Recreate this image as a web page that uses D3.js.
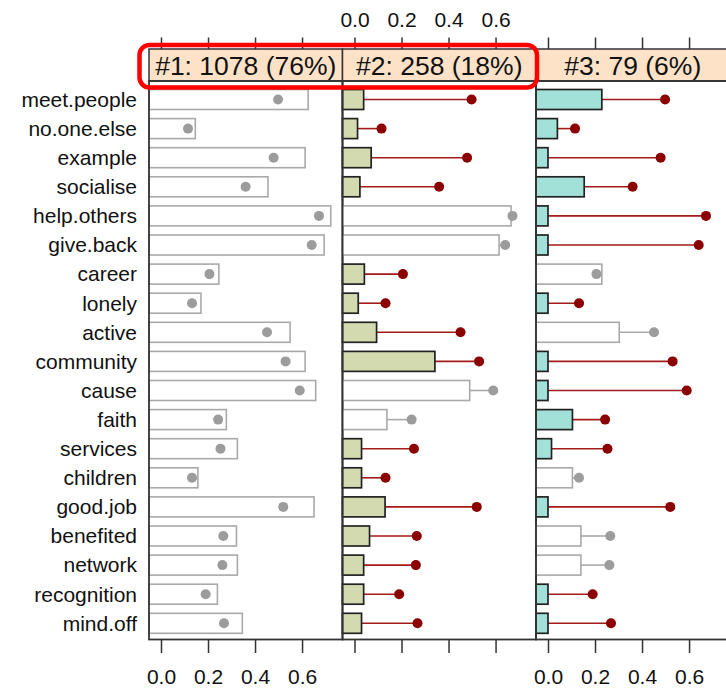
<!DOCTYPE html>
<html>
<head>
<meta charset="utf-8">
<script src="https://cdn.jsdelivr.net/npm/d3@7"></script>
<style>
  html, body { margin: 0; padding: 0; background: #fff; }
  svg { display: block; font-family: "Liberation Sans", Arial, sans-serif; }
</style>
</head>
<body>
<svg id="chart" width="726" height="688"></svg>
<script>
// Reasons given for volunteering: share of each segment agreeing, vs. the overall share
const categories = ["meet.people", "no.one.else", "example", "socialise", "help.others",
  "give.back", "career", "lonely", "active", "community", "cause", "faith", "services",
  "children", "good.job", "benefited", "network", "recognition", "mind.off"];

const overall = [0.498, 0.115, 0.479, 0.360, 0.672, 0.641, 0.206, 0.132, 0.451, 0.530,
  0.590, 0.243, 0.253, 0.132, 0.520, 0.265, 0.261, 0.190, 0.268];

const segmentLabels = ["#1: 1078 (76%)", "#2: 258 (18%)", "#3: 79 (6%)"];

const segment1 = [0.626, 0.146, 0.613, 0.455, 0.722, 0.694, 0.246, 0.170, 0.549, 0.613,
  0.658, 0.278, 0.325, 0.157, 0.651, 0.321, 0.325, 0.240, 0.346];
const segment2 = [0.039, 0.013, 0.071, 0.023, 0.666, 0.615, 0.042, 0.016, 0.094, 0.342,
  0.490, 0.138, 0.030, 0.030, 0.130, 0.064, 0.039, 0.039, 0.030];
const segment3 = [0.229, 0.040, 0.000, 0.154, 0.000, 0.000, 0.229, 0.000, 0.303, 0.000,
  0.000, 0.104, 0.015, 0.104, 0.000, 0.140, 0.140, 0.000, 0.000];

// 1 = segment differs markedly from the overall share (bar is shaded)
const marked1 = [0, 0, 0, 0, 0, 0, 0, 0, 0, 0, 0, 0, 0, 0, 0, 0, 0, 0, 0];
const marked2 = [1, 1, 1, 1, 0, 0, 1, 1, 1, 1, 0, 0, 1, 1, 1, 1, 1, 1, 1];
const marked3 = [1, 1, 1, 1, 1, 1, 0, 1, 0, 1, 1, 1, 1, 0, 1, 0, 0, 1, 1];

const segmentFills = ["#d8d8d8", "#d4dab0", "#a2e1d7"];
const xTicks = [0.0, 0.2, 0.4, 0.6];

const segments = [
  { label: segmentLabels[0], values: segment1, marked: marked1, fill: segmentFills[0] },
  { label: segmentLabels[1], values: segment2, marked: marked2, fill: segmentFills[1] },
  { label: segmentLabels[2], values: segment3, marked: marked3, fill: segmentFills[2] }
];

// Layout
const panelLeft = 149, panelW = 193.5;
const stripTop = 49, stripH = 32;
const panelTop = stripTop + stripH, panelBottom = 639.5;
const frameColor = "#333";
const greyStroke = "#a9a9a9", greyDot = "#9c9c9c";
const redLine = "#a31a1a", redDot = "#8b0000";

const svg = d3.select("#chart");

const x = d3.scaleLinear().domain([-0.051, 0.772]).range([0, panelW]);
const y = d3.scalePoint().domain(categories).range([99.5, 623.3]);
const barH = 20;

// Category labels
svg.append("g").selectAll("text")
  .data(categories)
  .join("text")
  .attr("x", 137)
  .attr("y", d => y(d))
  .attr("dy", "0.35em")
  .attr("text-anchor", "end")
  .attr("font-size", 21)
  .attr("fill", "#111")
  .text(d => d);

segments.forEach((seg, i) => {
  const g = svg.append("g").attr("transform", `translate(${panelLeft + i * panelW},0)`);
  const rows = categories.map((c, k) => ({ cat: c, v: seg.values[k], o: overall[k], m: seg.marked[k] === 1 }));

  // connecting lines from bar end to overall share
  g.append("g").selectAll("line")
    .data(rows)
    .join("line")
    .attr("x1", d => x(d.v))
    .attr("x2", d => x(d.o))
    .attr("y1", d => y(d.cat))
    .attr("y2", d => y(d.cat))
    .attr("stroke", d => d.m ? redLine : greyStroke)
    .attr("stroke-width", 1.6);

  // bars
  g.append("g").selectAll("rect")
    .data(rows)
    .join("rect")
    .attr("x", x(x.domain()[0]))
    .attr("y", d => y(d.cat) - barH / 2)
    .attr("width", d => x(d.v) - x(x.domain()[0]))
    .attr("height", barH)
    .attr("fill", d => d.m ? seg.fill : "#fff")
    .attr("stroke", d => d.m ? "#222" : greyStroke)
    .attr("stroke-width", d => d.m ? 1.7 : 1.6);

  // overall share
  g.append("g").selectAll("circle")
    .data(rows)
    .join("circle")
    .attr("cx", d => x(d.o))
    .attr("cy", d => y(d.cat))
    .attr("r", 5)
    .attr("fill", d => d.m ? redDot : greyDot);

  // strip
  g.append("rect")
    .attr("x", 0).attr("y", stripTop)
    .attr("width", panelW).attr("height", stripH)
    .attr("fill", "#fde2c8")
    .attr("stroke", frameColor).attr("stroke-width", 1.5);
  g.append("text")
    .attr("x", panelW / 2)
    .attr("y", stripTop + stripH / 2)
    .attr("dy", "0.36em")
    .attr("text-anchor", "middle")
    .attr("font-size", 26.5)
    .attr("fill", "#111")
    .text(seg.label);

  // panel frame
  g.append("rect")
    .attr("x", 0).attr("y", panelTop)
    .attr("width", panelW).attr("height", panelBottom - panelTop)
    .attr("fill", "none")
    .attr("stroke", frameColor).attr("stroke-width", 1.8);

  // ticks top and bottom; labels alternate bottom / top / bottom
  const labelsOnTop = i % 2 === 1;
  const top = d3.axisTop(x).tickValues(xTicks).tickSizeInner(11.5).tickSizeOuter(0)
    .tickFormat(labelsOnTop ? d3.format(".1f") : () => "");
  const bottom = d3.axisBottom(x).tickValues(xTicks).tickSizeInner(13.5).tickSizeOuter(0)
    .tickFormat(labelsOnTop ? () => "" : d3.format(".1f"));

  const gt = g.append("g").attr("transform", `translate(0,${stripTop})`).call(top);
  const gb = g.append("g").attr("transform", `translate(0,${panelBottom})`).call(bottom);
  [gt, gb].forEach(a => {
    a.select(".domain").remove();
    a.selectAll(".tick line").attr("stroke", frameColor).attr("stroke-width", 1.5);
    a.selectAll(".tick text")
      .attr("font-size", 21)
      .attr("font-family", "'Liberation Sans', Arial, sans-serif")
      .attr("fill", "#111");
  });
  gt.selectAll(".tick text").attr("y", -22).attr("dy", 0);
  gb.selectAll(".tick text").attr("y", 44).attr("dy", 0);
});

// highlight around the first two segment headers
svg.append("rect")
  .attr("x", 139.5).attr("y", 45)
  .attr("width", 537 - 139.5).attr("height", 87.5 - 45)
  .attr("rx", 10).attr("ry", 10)
  .attr("fill", "none")
  .attr("stroke", "#ff0000")
  .attr("stroke-width", 4.5);
</script>
</body>
</html>
